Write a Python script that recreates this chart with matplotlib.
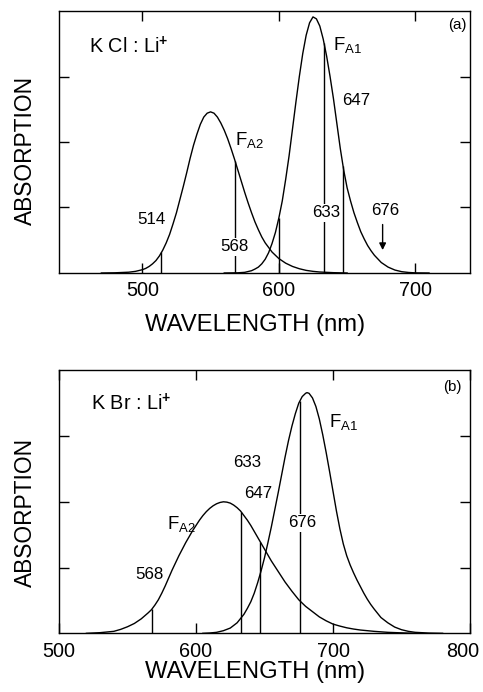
import numpy as np
import matplotlib
matplotlib.use('Agg')
import matplotlib.pyplot as plt
from matplotlib import font_manager
from matplotlib.transforms import ScaledTranslation

# narrow sans if there is one, else plain Liberation Sans a bit smaller
try:
    font_manager.findfont(font_manager.FontProperties(family='Liberation Sans Narrow'),
                          fallback_to_default=False)
    FONT, K = 'Liberation Sans Narrow', 1.0
except ValueError:
    FONT, K = 'Liberation Sans', 0.84

plt.rcParams['font.family'] = [FONT, 'DejaVu Sans']
plt.rcParams['mathtext.fontset'] = 'custom'
plt.rcParams['mathtext.rm'] = FONT
plt.rcParams['mathtext.it'] = FONT
plt.rcParams['mathtext.bf'] = FONT + ':bold'

# ---- panel (a): KCl:Li+
a_fa2_nm = [470, 480, 490, 495, 500, 502.5, 505, 507.5, 510, 512.5, 515, 517.5,
            520, 522.5, 525, 527.5, 530, 532.5, 535, 537.5, 540, 542.5, 545,
            547.5, 550, 552.5, 555, 557.5, 560, 562.5, 565, 567.5, 570, 572.5,
            575, 577.5, 580, 582.5, 585, 587.5, 590, 592.5, 595, 597.5, 600,
            605, 610, 615, 620, 625, 630, 640, 650]
a_fa2 = [0.0, 0.003, 0.012, 0.025, 0.05, 0.07, 0.10, 0.14, 0.19, 0.26, 0.35, 0.46,
         0.59, 0.75, 0.92, 1.12, 1.32, 1.53, 1.75, 1.95, 2.12, 2.27, 2.38,
         2.44, 2.46, 2.44, 2.38, 2.29, 2.18, 2.05, 1.90, 1.74, 1.57, 1.40,
         1.23, 1.07, 0.92, 0.78, 0.66, 0.55, 0.46, 0.39, 0.32, 0.27, 0.22,
         0.15, 0.10, 0.065, 0.04, 0.025, 0.015, 0.005, 0.0]
a_fa1_nm = [560, 570, 575, 580, 582.5, 585, 587.5, 590, 592.5, 595, 597.5, 600,
            602.5, 605, 607.5, 610, 612.5, 615, 617.5, 620, 622.5, 625, 627.5,
            630, 632.5, 635, 637.5, 640, 642.5, 645, 647.5, 650, 652.5, 655,
            657.5, 660, 662.5, 665, 667.5, 670, 675, 680, 685, 690, 695, 700, 710]
a_fa1 = [0.0, 0.003, 0.01, 0.035, 0.06, 0.09, 0.14, 0.21, 0.31, 0.45, 0.62, 0.84,
         1.10, 1.43, 1.79, 2.20, 2.61, 3.00, 3.35, 3.63, 3.82, 3.91, 3.88,
         3.77, 3.57, 3.31, 3.00, 2.66, 2.28, 1.90, 1.57, 1.30, 1.10, 0.92,
         0.77, 0.63, 0.52, 0.42, 0.34, 0.27, 0.16, 0.09, 0.045, 0.02, 0.008, 0.002, 0.0]
a_lines = [514, 568, 600, 633, 647]
a_labels = [('514', 507, 0.81), ('568', 567.5, 0.40), ('633', 635, 0.92),
            ('647', 657, 2.64), ('676', 678, 0.96)]

# ---- panel (b): KBr:Li+
b_fa2_nm = [520, 530, 540, 545, 550, 555, 560, 565, 567.5, 570, 572.5, 575, 577.5,
            580, 582.5, 585, 587.5, 590, 592.5, 595, 597.5, 600, 602.5, 605,
            607.5, 610, 612.5, 615, 617.5, 620, 622.5, 625, 627.5, 630, 632.5,
            635, 637.5, 640, 642.5, 645, 647.5, 650, 652.5, 655, 657.5, 660,
            665, 670, 675, 680, 685, 690, 695, 700, 705, 710, 715, 720, 730,
            740, 750, 760]
b_fa2 = [0.0, 0.01, 0.03, 0.06, 0.10, 0.15, 0.22, 0.31, 0.36, 0.43, 0.51, 0.61, 0.72,
         0.84, 0.96, 1.07, 1.18, 1.28, 1.38, 1.47, 1.56, 1.64, 1.72, 1.79,
         1.85, 1.90, 1.94, 1.97, 1.99, 2.0, 1.995, 1.98, 1.95, 1.91, 1.86,
         1.79, 1.72, 1.64, 1.55, 1.46, 1.37, 1.28, 1.19, 1.10, 1.02, 0.94,
         0.78, 0.64, 0.51, 0.41, 0.33, 0.25, 0.19, 0.14, 0.11, 0.084, 0.065, 0.05, 0.03,
         0.015, 0.007, 0.0]
b_fa1_nm = [605, 610, 615, 620, 625, 630, 635, 637.5, 640, 642.5, 645, 647.5, 650,
            652.5, 655, 657.5, 660, 662.5, 665, 667.5, 670, 672.5, 675, 677.5,
            680, 681, 682.5, 685, 687.5, 690, 692.5, 695, 697.5, 700, 702.5,
            705, 707.5, 710, 712.5, 715, 717.5, 720, 722.5, 725, 727.5, 730,
            735, 740, 745, 750, 755, 760, 770, 780]
b_fa1 = [0.0, 0.005, 0.015, 0.04, 0.08, 0.16, 0.29, 0.38, 0.48, 0.61, 0.77, 0.95, 1.15,
         1.38, 1.62, 1.88, 2.14, 2.41, 2.68, 2.93, 3.15, 3.34, 3.50, 3.60,
         3.65, 3.66, 3.65, 3.58, 3.45, 3.26, 3.02, 2.75, 2.46, 2.16, 1.86,
         1.59, 1.36, 1.18, 1.04, 0.92, 0.81, 0.71, 0.61, 0.52, 0.44, 0.37,
         0.24, 0.16, 0.095, 0.055, 0.03, 0.015, 0.004, 0.0]
b_lines = [568, 633, 647, 676]
b_labels = [('568', 566, 0.90), ('633', 637.5, 2.60), ('647', 645.5, 2.12),
            ('676', 677.5, 1.68)]


def style_axes(ax, xlim, xticks, xpad, ylab_y):
    ax.set_xlim(*xlim)
    ax.set_ylim(0, 4)
    ax.set_xticks(xticks)
    ax.set_yticks([1, 2, 3])
    ax.set_yticklabels([])
    ax.tick_params(direction='in', length=7, width=1.0, top=True, right=True,
                   labelsize=17 * K, pad=6)
    for s in ax.spines.values():
        s.set_linewidth(1.0)
    ax.set_xlabel('WAVELENGTH (nm)', fontsize=20.5 * K, labelpad=xpad, x=0.477)
    ax.set_ylabel('ABSORPTION', fontsize=19.5 * K, labelpad=10, y=ylab_y)


def draw_panel(ax, nm2, y2, nm1, y1, lines, labels):
    ax.plot(nm2, y2, color='black', lw=1.0)
    ax.plot(nm1, y1, color='black', lw=1.0)
    tops = np.maximum(np.interp(lines, nm2, y2), np.interp(lines, nm1, y1))
    ax.vlines(lines, 0, tops, color='black', lw=1.0)
    for txt, x, y in labels:
        ax.text(x, y, txt, ha='center', va='center', fontsize=14.5 * K, zorder=5,
                bbox=dict(facecolor='white', edgecolor='none', pad=1.0))


fig = plt.figure(figsize=(4.83, 6.92), dpi=100)

ax1 = fig.add_axes([0.1222, 0.6055, 0.8509, 0.3786])
draw_panel(ax1, a_fa2_nm, a_fa2, a_fa1_nm, a_fa1, a_lines, a_labels)
style_axes(ax1, (439, 740), [500, 600, 700], 10, 0.466)
ax1.text(461, 3.45, 'K Cl : Li$^{\\mathbf{+}}$', fontsize=17 * K, va='center')
ax1.text(731, 3.79, '(a)', fontsize=13 * K, ha='center', va='center')
ax1.text(568, 2.03, 'F$_{\\mathrm{A2}}$', fontsize=16 * K, va='center')
ax1.text(640, 3.48, 'F$_{\\mathrm{A1}}$', fontsize=16 * K, va='center')
ax1.annotate('', xy=(676, 0.35), xytext=(676, 0.74),
             arrowprops=dict(arrowstyle='-|>', color='black', lw=1.0,
                             mutation_scale=10, shrinkA=0, shrinkB=0))

ax2 = fig.add_axes([0.1222, 0.0848, 0.8509, 0.3801])
draw_panel(ax2, b_fa2_nm, b_fa2, b_fa1_nm, b_fa1, b_lines, b_labels)
style_axes(ax2, (500, 800), [500, 600, 700, 800], 0, 0.461)
ax2.text(523, 3.49, 'K Br : Li$^{\\mathbf{+}}$', fontsize=17 * K, va='center')
ax2.text(787, 3.74, '(b)', fontsize=13 * K, ha='center', va='center')
ax2.text(579, 1.66, 'F$_{\\mathrm{A2}}$', fontsize=16 * K, va='center')
ax2.text(697, 3.21, 'F$_{\\mathrm{A1}}$', fontsize=16 * K, va='center')

# the "800" sits a little left of its tick in the original, inside the page
lab = ax2.xaxis.get_major_ticks()[-1].label1
lab.set_transform(lab.get_transform() + ScaledTranslation(-7 / 100, 0, fig.dpi_scale_trans))

fig.savefig('out.png', dpi=100)
